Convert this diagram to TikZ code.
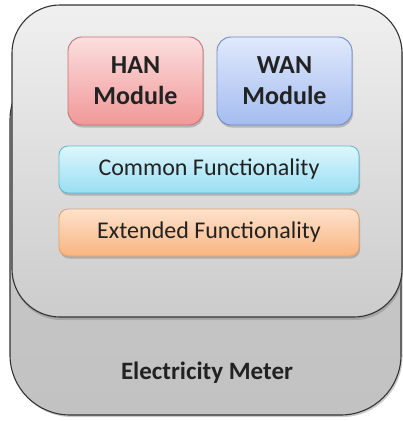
\documentclass[tikz,border=0pt]{standalone}
\usepackage{fontspec}
\setmainfont{Carlito}
\usetikzlibrary{shadows}
\definecolor{txt}{HTML}{222222}
\definecolor{hanTop}{RGB}{252,222,222}
\definecolor{hanBot}{RGB}{241,152,152}
\definecolor{hanLine}{RGB}{200,115,115}
\definecolor{wanTop}{RGB}{224,233,252}
\definecolor{wanBot}{RGB}{164,188,240}
\definecolor{wanLine}{RGB}{110,140,200}
\definecolor{comTop}{RGB}{220,246,253}
\definecolor{comBot}{RGB}{152,223,243}
\definecolor{comLine}{RGB}{100,185,210}
\definecolor{extTop}{RGB}{253,226,204}
\definecolor{extBot}{RGB}{249,180,128}
\definecolor{extLine}{RGB}{235,160,100}
\tikzset{
  x=1pt, y=-1pt,
  meter/.style={draw=black!80, line width=1.1pt, rounded corners=#1},
  module/.style={draw=#1, line width=0.9pt, rounded corners=14pt,
    drop shadow={shadow xshift=1pt, shadow yshift=-2.5pt, opacity=0.35, fill=black!60}},
  label/.style={text=txt, align=center, font=\fontsize{24}{25}\selectfont, inner sep=0pt},
}
\begin{document}
\begin{tikzpicture}
\useasboundingbox (0,0) rectangle (403,421);
% base housing of the meter
\path[meter=60pt, top color=black!20, bottom color=black!24,
  drop shadow={shadow xshift=1.5pt, shadow yshift=-2pt, opacity=0.4}]
  (10,60) rectangle (401,415);
\node[label, font=\bfseries\fontsize{25}{26}\selectfont] (meter) at (207,373) {Electricity Meter};
% communication board on top
\path[meter=48pt, top color=black!6, bottom color=black!20,
  drop shadow={shadow xshift=1pt, shadow yshift=-3pt, opacity=0.45}]
  (12,5) rectangle (402,317);
% modules
\path[module=hanLine, top color=hanTop, bottom color=hanBot]
  (68,37) rectangle (203,125);
\path[module=wanLine, top color=wanTop, bottom color=wanBot]
  (217,37) rectangle (352,125);
\path[module=comLine, rounded corners=9pt, top color=comTop, bottom color=comBot]
  (59,146) rectangle (359,193);
\path[module=extLine, rounded corners=9pt, top color=extTop, bottom color=extBot]
  (59,209) rectangle (359,256);
\node[label, font=\bfseries\fontsize{26}{31}\selectfont] (han) at (135.5,81) {HAN\\Module};
\node[label, font=\bfseries\fontsize{26}{31}\selectfont] (wan) at (284.5,81) {WAN\\Module};
\node[label] (common) at (209,169.5) {Common Functionality};
\node[label] (ext) at (209,232.5) {Extended Functionality};
\end{tikzpicture}
\end{document}
